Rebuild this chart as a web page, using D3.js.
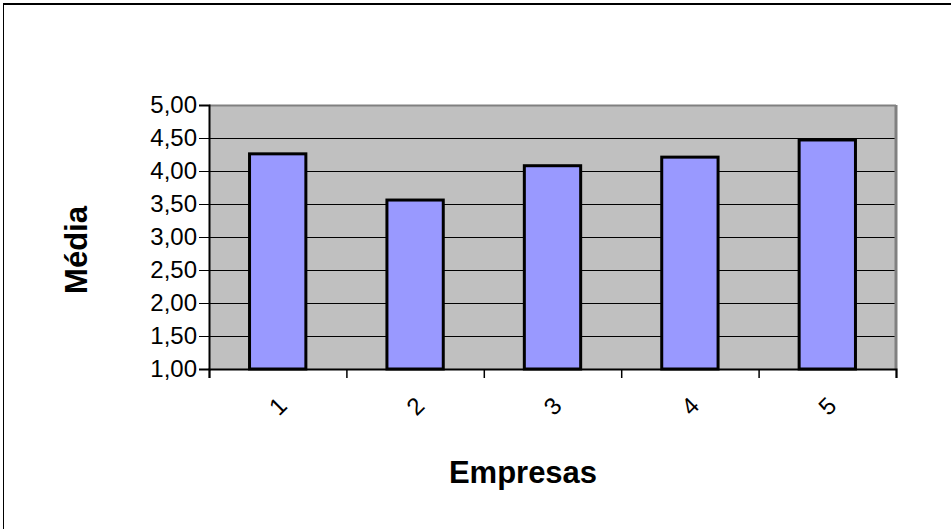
<!DOCTYPE html>
<html><head><meta charset="utf-8">
<script src="https://cdn.jsdelivr.net/npm/d3@7"></script>
<style>body{margin:0;background:#fff}svg{display:block}text{font-family:"Liberation Sans",Arial,sans-serif}</style>
</head><body><svg id="c" width="951" height="529"></svg>
<script>
const categories = ["1","2","3","4","5"];
const values = [4.26, 3.56, 4.08, 4.21, 4.47];
const yTicks = [1,1.5,2,2.5,3,3.5,4,4.5,5];
const yTitle = "Média";
const xTitle = "Empresas";

const svg = d3.select("#c");
const L=209, R=896, T=105, B=369;
const x = d3.scaleBand().domain(categories).range([L,R]).paddingInner(0.59).paddingOuter(0.295);
const xEdges = d3.scaleLinear().domain([0,categories.length]).range([L,R]);
const y = d3.scaleLinear().domain([1,5]).range([B,T]);
const fmt = v => d3.format(".2f")(v).replace(".", ",");

// frame
svg.append("line").attr("x1",3).attr("x2",951).attr("y1",4).attr("y2",4).attr("stroke","#000").attr("stroke-width",2);
svg.append("line").attr("x1",3.5).attr("x2",3.5).attr("y1",3).attr("y2",529).attr("stroke","#000").attr("stroke-width",1);

// plot bg
svg.append("rect").attr("x",L).attr("y",T).attr("width",R-L).attr("height",B-T).attr("fill","#C0C0C0");
// gridlines
svg.selectAll(".g").data(yTicks.filter(v=>v>1&&v<5)).enter().append("line")
  .attr("x1",L).attr("x2",R).attr("y1",d=>Math.round(y(d))+0.5).attr("y2",d=>Math.round(y(d))+0.5)
  .attr("stroke","#000").attr("stroke-width",1);
// grey border top/right
svg.append("line").attr("x1",L).attr("x2",R).attr("y1",T+0.5).attr("y2",T+0.5).attr("stroke","#808080").attr("stroke-width",2);
svg.append("line").attr("x1",R).attr("x2",R).attr("y1",T).attr("y2",B).attr("stroke","#808080").attr("stroke-width",3);

// bars
svg.selectAll(".bar").data(values).enter().append("rect")
  .attr("x",(d,i)=>x(categories[i])).attr("width",x.bandwidth())
  .attr("y",d=>y(d)).attr("height",d=>B-y(d))
  .attr("fill","#9999FF").attr("stroke","#000").attr("stroke-width",3);

// y axis
const ya = svg.append("g").attr("transform",`translate(${L},0)`)
  .call(d3.axisLeft(y).tickValues(yTicks).tickFormat(fmt).tickSize(10).tickPadding(2));
ya.select(".domain").attr("stroke","#000").attr("stroke-width",2);
ya.selectAll(".tick line").attr("stroke","#000").attr("stroke-width",1);
ya.selectAll("text").attr("font-size",24).attr("fill","#000").attr("font-family","Liberation Sans, Arial, sans-serif");

// x axis
const xa = svg.append("g").attr("transform",`translate(0,${B})`)
  .call(d3.axisBottom(xEdges).tickValues(d3.range(categories.length+1)).tickFormat("").tickSize(9));
xa.select(".domain").attr("stroke","#000").attr("stroke-width",2);
xa.selectAll(".tick line").attr("stroke","#000").attr("stroke-width",1.5);

svg.selectAll(".xl").data(categories).enter().append("text")
  .attr("transform",d=>`translate(${x(d)+x.bandwidth()/2},${B+37}) rotate(-45)`)
  .attr("text-anchor","middle").attr("dominant-baseline","central")
  .attr("font-size",24).attr("fill","#000").text(d=>d);

// titles
svg.append("text").attr("transform","translate(76,250) rotate(-90)").attr("text-anchor","middle")
  .attr("dominant-baseline","central").attr("font-size",31).attr("font-weight","bold").text(yTitle);
svg.append("text").attr("x",523).attr("y",472).attr("text-anchor","middle")
  .attr("dominant-baseline","central").attr("font-size",31).attr("font-weight","bold").text(xTitle);
</script></body></html>
